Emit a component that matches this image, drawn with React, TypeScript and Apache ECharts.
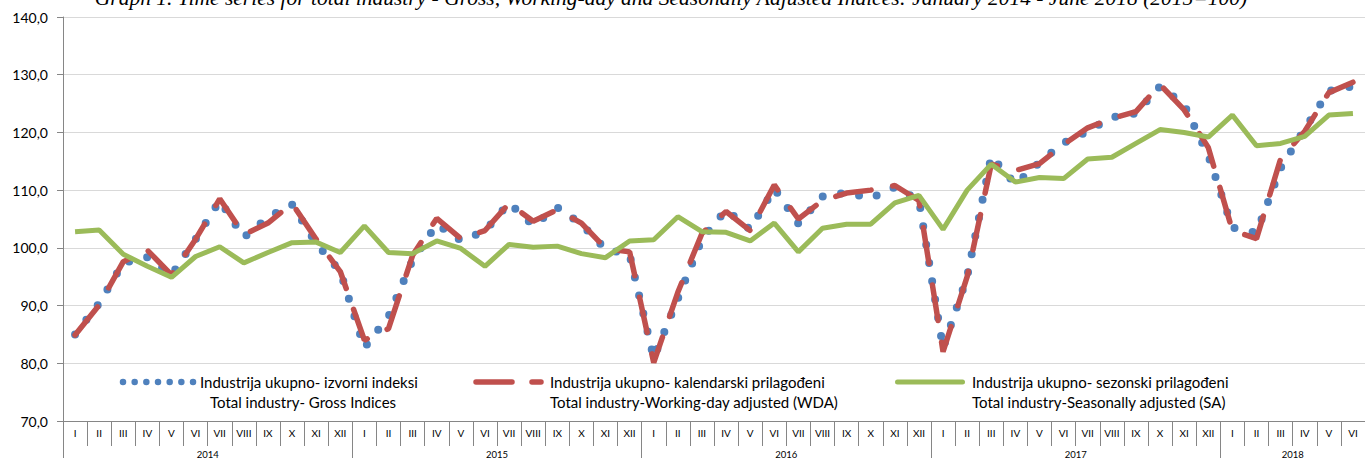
import React, { useEffect, useRef } from 'react';
import * as echarts from 'echarts';

const monthLabels = ['I', 'II', 'III', 'IV', 'V', 'VI', 'VII', 'VIII', 'IX', 'X', 'XI', 'XII'];
const yearLabels = ['2014', '2015', '2016', '2017', '2018'];
const monthsPerYear = [12, 12, 12, 12, 6];
const yTicks = [70, 80, 90, 100, 110, 120, 130, 140];

const titleText =
  'Graph 1. Time series for total industry - Gross, Working-day and Seasonally Adjusted Indices: January 2014 - June 2018 (2015=100)';

const seriesNames = [
  ['Industrija ukupno- izvorni indeksi', 'Total industry- Gross Indices'],
  ['Industrija ukupno- kalendarski prilagođeni', 'Total industry-Working-day adjusted (WDA)'],
  ['Industrija ukupno- sezonski prilagođeni', 'Total industry-Seasonally adjusted (SA)'],
];

// Gross indices
const gross = [
  85.0, 90.4, 97.4, 98.4, 95.3, 101.5, 108.2, 101.8, 105.3, 107.5, 100.8, 95.9,
  82.7, 88.1, 97.9, 104.1, 101.3, 102.9, 107.8, 103.9, 107.0, 104.1, 99.8, 98.8,
  80.9, 91.2, 101.5, 106.6, 103.2, 110.3, 104.2, 108.9, 109.6, 108.6, 110.5, 108.3,
  82.6, 95.0, 115.9, 111.0, 114.8, 118.2, 120.2, 122.6, 123.3, 128.0, 124.8, 116.0,
  103.5, 102.6, 113.8, 120.6, 127.2, 128.0,
];

// Working-day adjusted
const wda = [
  84.9, 90.1, 97.6, 99.6, 95.3, 101.5, 108.5, 102.3, 104.3, 107.7, 101.5, 95.9,
  84.0, 86.0, 98.7, 105.1, 101.6, 103.0, 107.7, 104.6, 106.6, 104.3, 99.9, 99.3,
  80.1, 92.3, 102.5, 106.3, 103.0, 110.9, 105.0, 108.2, 109.5, 110.0, 110.8, 108.2,
  82.0, 95.0, 114.5, 113.4, 114.6, 117.9, 120.8, 122.4, 123.6, 128.3, 123.9, 117.4,
  103.0, 101.6, 115.4, 120.2, 126.9, 128.7,
];

// Seasonally adjusted
const sa = [
  102.8, 103.1, 98.9, 96.8, 94.9, 98.5, 100.2, 97.4, 99.2, 100.9, 101.0, 99.2,
  103.8, 99.2, 99.0, 101.2, 99.9, 96.8, 100.6, 100.1, 100.3, 99.0, 98.3, 101.2,
  101.4, 105.4, 102.8, 102.7, 101.2, 104.3, 99.3, 103.4, 104.1, 104.1, 107.8, 109.1,
  103.2, 110.0, 114.5, 111.4, 112.2, 112.0, 115.4, 115.7, 118.1, 120.5, 120.0, 119.2,
  123.0, 117.7, 118.1, 119.3, 123.0, 123.3,
];

const categories: string[] = [];
yearLabels.forEach((y, i) => {
  for (let m = 0; m < monthsPerYear[i]; m++) categories.push(y + '|' + monthLabels[m]);
});
const yearStarts: number[] = [];
const yearMids: number[] = [];
{
  let acc = 0;
  monthsPerYear.forEach((n) => {
    yearStarts.push(acc);
    yearMids.push(acc + n / 2);
    acc += n;
  });
  yearStarts.push(acc);
}
const totalMonths = categories.length;

const COLORS = { gross: '#4F81BD', wda: '#C0504D', sa: '#9BBB59' };
const FONT = 'Lato, "Noto Sans", sans-serif';

function buildOption() {
  const legendY1 = 382;
  const legendY2 = 402;
  const textStyleBase = { fill: '#000', fontSize: 15, fontFamily: FONT, verticalAlign: 'middle', align: 'left' };
  const graphic: any[] = [
    {
      type: 'text',
      x: 671,
      y: -2,
      silent: true,
      style: {
        text: titleText,
        fill: '#000',
        fontSize: 21.5,
        fontStyle: 'italic',
        fontFamily: '"Liberation Serif", serif',
        align: 'center',
        verticalAlign: 'middle',
      },
    },
    {
      type: 'line',
      silent: true,
      shape: { x1: 123, y1: legendY1, x2: 193.5, y2: legendY1 },
      style: { stroke: COLORS.gross, lineWidth: 6.5, lineDash: [0, 11.67], lineCap: 'round' },
    },
    { type: 'text', x: 200, y: legendY1, silent: true, style: { ...textStyleBase, text: seriesNames[0][0] } },
    { type: 'text', x: 210, y: legendY2, silent: true, style: { ...textStyleBase, text: seriesNames[0][1] } },
    {
      type: 'line',
      silent: true,
      shape: { x1: 476, y1: legendY1, x2: 541, y2: legendY1 },
      style: { stroke: COLORS.wda, lineWidth: 5.5, lineDash: [36, 20], lineCap: 'round' },
    },
    { type: 'text', x: 550, y: legendY1, silent: true, style: { ...textStyleBase, text: seriesNames[1][0] } },
    { type: 'text', x: 550, y: legendY2, silent: true, style: { ...textStyleBase, text: seriesNames[1][1] } },
    {
      type: 'line',
      silent: true,
      shape: { x1: 897.5, y1: legendY1, x2: 962.5, y2: legendY1 },
      style: { stroke: COLORS.sa, lineWidth: 5, lineCap: 'round' },
    },
    { type: 'text', x: 972, y: legendY1, silent: true, style: { ...textStyleBase, text: seriesNames[2][0] } },
    { type: 'text', x: 972, y: legendY2, silent: true, style: { ...textStyleBase, text: seriesNames[2][1] } },
  ];

  return {
    animation: false,
    backgroundColor: '#fff',
    textStyle: { fontFamily: FONT },
    grid: { left: 63, top: 17, width: 1309.5, height: 405, containLabel: false },
    xAxis: [
      {
        type: 'category',
        data: categories,
        boundaryGap: true,
        position: 'bottom',
        axisLine: { show: true, lineStyle: { color: '#868686', width: 1 } },
        axisTick: { show: true, interval: 0, length: 25, lineStyle: { color: '#868686' } },
        axisLabel: {
          interval: 0,
          fontSize: 10,
          color: '#000',
          margin: 7,
          formatter: (v: string) => v.split('|')[1],
        },
        splitLine: { show: false },
      },
      {
        type: 'value',
        position: 'bottom',
        min: 0,
        max: totalMonths,
        axisLine: { show: false },
        axisTick: { show: true, customValues: yearStarts, length: 37, lineStyle: { color: '#868686' } },
        axisLabel: {
          customValues: yearMids,
          fontSize: 9.5,
          color: '#000',
          margin: 28,
          formatter: (v: number) => {
            const i = yearMids.findIndex((m) => Math.abs(m - v) < 1e-6);
            return i >= 0 ? yearLabels[i] : '';
          },
        },
        splitLine: { show: false },
      },
    ],
    yAxis: {
      type: 'value',
      min: yTicks[0],
      max: yTicks[yTicks.length - 1],
      interval: 10,
      axisLine: { show: true, lineStyle: { color: '#868686', width: 1 } },
      axisTick: { show: true, length: 6, lineStyle: { color: '#868686' } },
      axisLabel: {
        fontSize: 14,
        color: '#000',
        margin: 15,
        formatter: (v: number) => v.toFixed(1).replace('.', ','),
      },
      splitLine: { show: true, lineStyle: { color: '#D9D9D9', width: 1 } },
    },
    series: [
      {
        name: seriesNames[0].join(' '),
        type: 'line',
        data: gross,
        symbol: 'none',
        lineStyle: { color: COLORS.gross, width: 8, type: [0, 18.5], cap: 'round' },
        itemStyle: { color: COLORS.gross },
        z: 2,
      },
      {
        name: seriesNames[1].join(' '),
        type: 'line',
        data: wda,
        symbol: 'none',
        lineStyle: { color: COLORS.wda, width: 5.5, type: [36, 22], cap: 'round' },
        itemStyle: { color: COLORS.wda },
        z: 3,
      },
      {
        name: seriesNames[2].join(' '),
        type: 'line',
        data: sa,
        symbol: 'none',
        lineStyle: { color: COLORS.sa, width: 5 },
        itemStyle: { color: COLORS.sa },
        z: 4,
      },
    ],
    graphic,
  };
}

export default function App() {
  const ref = useRef<HTMLDivElement>(null);
  useEffect(() => {
    if (!ref.current) return;
    const chart = echarts.init(ref.current, null, { renderer: 'svg' });
    chart.setOption(buildOption() as any);
    return () => {
      chart.dispose();
    };
  }, []);
  return (
    <div
      ref={ref}
      style={{ position: 'absolute', left: 0, top: 0, width: 1365, height: 459, background: '#fff' }}
    />
  );
}
